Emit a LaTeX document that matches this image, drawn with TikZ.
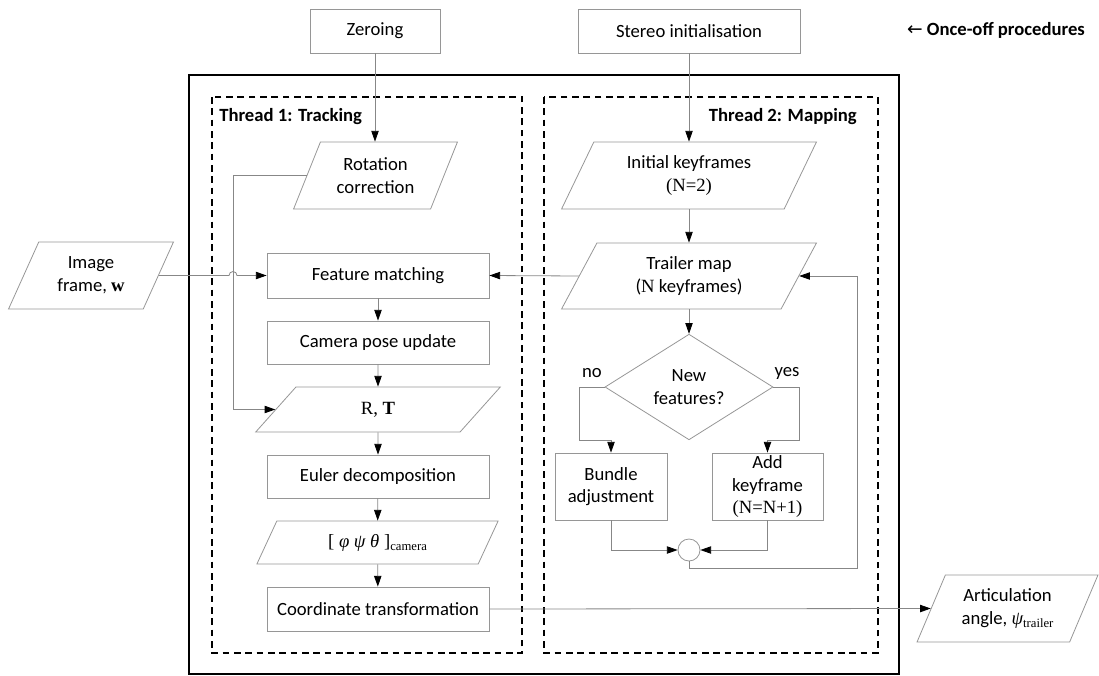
\documentclass[tikz,border=0pt]{standalone}
\usepackage{fontspec}
\setmainfont{Carlito}
\newfontfamily\tms{Liberation Serif}
\newfontfamily\djv{DejaVu Sans}
\usetikzlibrary{shapes.geometric,arrows.meta}
\definecolor{boxgray}{RGB}{150,150,150}
\definecolor{linegray}{RGB}{135,135,135}
\newcommand{\subtxt}[1]{\raisebox{-2.5pt}{\tms\fontsize{9.5}{9.5}\selectfont #1}}
\begin{document}
\begin{tikzpicture}[x=0.75pt,y=-0.75pt,
  font=\fontsize{14}{17}\selectfont,
  bx/.style={draw=boxgray, line width=0.6pt, rectangle, align=center, inner sep=1pt},
  pbox/.style={draw=boxgray, line width=0.6pt, trapezium, trapezium left angle=63,
    trapezium right angle=117, trapezium stretches=true, align=center, inner sep=1pt},
  arr/.style={draw=linegray, line width=0.6pt, -{Triangle[length=8pt,width=5.5pt,color=black]}},
  ln/.style={draw=linegray, line width=0.6pt},
  thr/.style={draw=black, line width=0.9pt, dash pattern=on 5pt off 3.5pt},
  lbl/.style={font=\fontsize{14}{17}\selectfont\bfseries, inner sep=0pt}]
\useasboundingbox (0,0) rectangle (1099,675);

% frames
\draw[line width=1.9pt] (189,75) rectangle (899,674);
\draw[thr] (212,97) rectangle (522,653);
\draw[thr] (544,97) rectangle (878,653);
\node[lbl, anchor=west] (t1) at (219,117) {Thread 1: Tracking};
\node[lbl, anchor=east] (t2) at (857,117) {Thread 2: Mapping};

% once-off
\node[bx, minimum width=97.5pt, minimum height=33pt] (zero) at (375,31) {Zeroing};
\node[bx, minimum width=166.5pt, minimum height=33pt] (stereo) at (689,31) {Stereo initialisation};
\node[lbl] (once) at (996,30) {{\djv\mdseries ←} Once-off procedures};

% thread 1
\node[pbox, minimum width=123.75pt, minimum height=50.25pt] (rot) at (375.5,175.5) {Rotation\\correction};
\node[bx, minimum width=166.5pt, minimum height=33.75pt] (fm) at (378,275.5) {Feature matching};
\node[bx, minimum width=166.5pt, minimum height=32.25pt] (cpu) at (378,342.5) {Camera pose update};
\node[pbox, minimum width=183.75pt, minimum height=33.75pt] (rt) at (378,409.5) {\tms R, \textbf{T}};
\node[bx, minimum width=166.5pt, minimum height=32.25pt] (eul) at (378,476.5) {Euler decomposition};
\node[pbox, minimum width=182.25pt, minimum height=32.25pt] (ang) at (377.5,542.5) {\tms [ \textit{φ ψ θ} ]\subtxt{camera}};
\node[bx, minimum width=166.5pt, minimum height=33pt] (ct) at (378,609) {Coordinate transformation};

% inputs / outputs
\node[pbox, minimum width=124.5pt, minimum height=50.25pt] (img) at (91,275.5) {Image\\frame, {\tms\bfseries w}};
\node[pbox, minimum width=135.75pt, minimum height=50.25pt] (art) at (1007.5,608.5) {Articulation\\angle, {\tms\itshape ψ}\subtxt{trailer}};

% thread 2
\node[pbox, minimum width=191.25pt, minimum height=50.25pt] (ik) at (689,175.5) {Initial keyframes\\{\tms (N=2)}};
\node[pbox, minimum width=191.25pt, minimum height=49.5pt] (tm) at (689,276) {Trailer map\\({\tms N} keyframes)};
\node[draw=boxgray, line width=0.6pt, diamond, minimum width=126pt, minimum height=65.25pt, inner sep=0pt, align=center] (dec) at (689,387) {New\\features?};
\node[bx, minimum width=84pt, minimum height=50.25pt] (ba) at (611,486.5) {Bundle\\adjustment};
\node[bx, minimum width=83.25pt, minimum height=50.25pt] (ak) at (767.5,486.5) {Add\\keyframe\\{\tms (N=N+1)}};
\node[draw=boxgray, line width=0.6pt, circle, minimum size=16.5pt, inner sep=0pt] (circ) at (689,550) {};
\node[inner sep=0pt] (no) at (592,373) {no};
\node[inner sep=0pt] (yes) at (787,373) {yes};

% helper coordinates
\coordinate (lp) at (233,0);
\coordinate (hop) at (lp |- img.right side);
\coordinate (nl) at (579,0);
\coordinate (nr) at (799,0);
\coordinate (lb) at (857,568);

% connectors
\draw[arr] (zero.south) -- (zero.south |- rot.top side);
\draw[arr] (stereo.south) -- (stereo.south |- ik.top side);
\draw[arr] (rot.left side) -- (rot.left side -| lp) |- (rt.left side);
\draw[arr] (img.right side) -- ([xshift=-3pt]hop) arc[start angle=180, end angle=0, radius=3pt] -- (fm.west);
\draw[arr] (fm) -- (cpu);
\draw[arr] (cpu) -- (rt);
\draw[arr] (rt) -- (eul);
\draw[arr] (eul) -- (ang);
\draw[arr] (ang) -- (ct);
\draw[arr] (ct.east) -- (art.left side);
\draw[arr] (ik.center |- ik.bottom side) -- (ik.center |- tm.top side);
\draw[arr] (tm.left side) -- (fm.east);
\draw[arr] (tm.center |- tm.bottom side) -- (tm.center |- dec.north);
\draw[arr] (dec.west) -- (dec.west -| nl) -- (nl |- dec.south) -| (ba.north);
\draw[arr] (dec.east) -- (dec.east -| nr) -- (nr |- dec.south) -| (ak.north);
\draw[arr] (ba.south) |- (circ.west);
\draw[arr] (ak.south) |- (circ.east);
\draw[arr] (circ.south) |- (lb) |- (tm.right side);
\end{tikzpicture}
\end{document}
